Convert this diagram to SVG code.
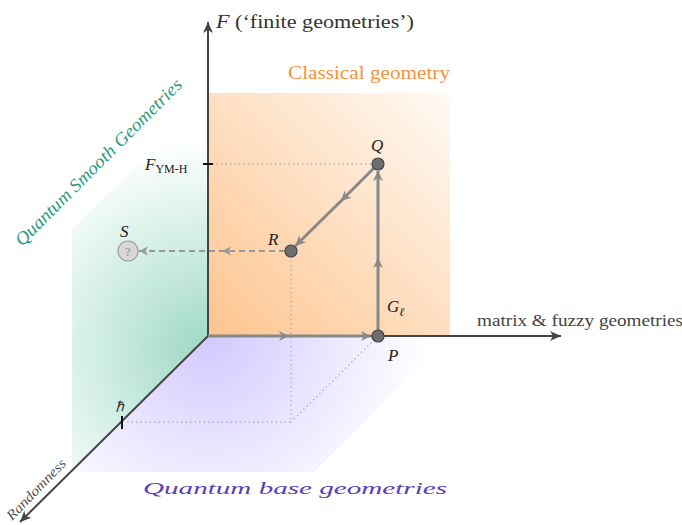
<svg xmlns="http://www.w3.org/2000/svg" width="682" height="525" viewBox="0 0 682 525">
<style>
.axis{stroke:#444;stroke-width:2;fill:none}
.conn{stroke:#888;stroke-width:3;fill:none}
.dash{stroke:#999;stroke-width:2;fill:none;stroke-dasharray:6 4}
.dot{stroke:#aaa;stroke-width:1.3;fill:none;stroke-dasharray:1.3 3.2}
.pt{fill:#6e6e6e;stroke:#444;stroke-width:1.2}
.lbl{font-family:"Liberation Serif",serif;fill:#222}
.it{font-style:italic}
</style>
<defs>
<linearGradient id="gOr" gradientUnits="userSpaceOnUse" x1="208" y1="336" x2="450" y2="93">
<stop offset="0" stop-color="#fdc48e"/><stop offset="1" stop-color="#fffaf5"/>
</linearGradient>
<radialGradient id="gGr" gradientUnits="userSpaceOnUse" cx="205" cy="350" r="210">
<stop offset="0" stop-color="#9fd8c5"/><stop offset="0.55" stop-color="#d4efe6"/><stop offset="1" stop-color="#ffffff"/>
</radialGradient>
<radialGradient id="gPu" gradientUnits="userSpaceOnUse" cx="208" cy="336" r="220">
<stop offset="0" stop-color="#d2c8ff"/><stop offset="0.55" stop-color="#ebe7ff"/><stop offset="1" stop-color="#ffffff"/>
</radialGradient>
<marker id="ax" markerUnits="userSpaceOnUse" markerWidth="16" markerHeight="12" viewBox="-12 -6 14 12" refX="0" refY="0" orient="auto">
<path d="M-11,-5 L0,0 L-11,5 L-8,0 Z" fill="#444"/>
</marker>
<marker id="ar" markerUnits="userSpaceOnUse" markerWidth="16" markerHeight="12" viewBox="-12 -6 14 12" refX="0" refY="0" orient="auto">
<path d="M-10,-5 L0,0 L-10,5 L-7,0 Z" fill="#888"/>
</marker>
<marker id="ard" markerUnits="userSpaceOnUse" markerWidth="16" markerHeight="12" viewBox="-12 -6 14 12" refX="0" refY="0" orient="auto">
<path d="M-9,-4.5 L0,0 L-9,4.5 L-6.5,0 Z" fill="#999"/>
</marker>
</defs>

<g id="planes">
<polygon id="plane-purple" points="208,336 450,336 314,472 72,472" fill="url(#gPu)"/>
<polygon id="plane-green" points="208,93 208,336 72,472 72,229" fill="url(#gGr)"/>
<rect id="plane-orange" x="208" y="93" width="242" height="243" fill="url(#gOr)"/>
</g>

<g id="guides">
<path class="dot" d="M212,164 H372"/>
<path class="dot" d="M291,256 V422 H124"/>
<path class="dot" d="M378,336 L291,422"/>
</g>

<g id="axes">
<path class="axis" d="M208,336 V22" marker-end="url(#ax)"/>
<path class="axis" d="M208,336 H561" marker-end="url(#ax)"/>
<path class="axis" d="M208,336 L20,522" marker-end="url(#ax)"/>
<path d="M203,164 H213" stroke="#111" stroke-width="2"/>
<path d="M122,416 V429" stroke="#111" stroke-width="2"/>
</g>

<g id="connectors">
<path class="conn" d="M208,336 L289,336 L371,336" marker-mid="url(#ar)" marker-end="url(#ar)"/>
<path class="conn" d="M378,330 L378,258 L378,171" marker-mid="url(#ar)" marker-end="url(#ar)"/>
<path class="conn" d="M373.7,168.3 L341,201 L295.5,245.7" marker-mid="url(#ar)" marker-end="url(#ar)"/>
<path class="dash" d="M285,251 L222,251 L139,251" marker-mid="url(#ard)" marker-end="url(#ard)"/>
</g>

<g id="node-P"><circle class="pt" cx="378" cy="336" r="6"/>
<text class="lbl it" x="388" y="361" font-size="17">P</text></g>
<g id="node-Q"><circle class="pt" cx="378" cy="164" r="6"/>
<text class="lbl it" x="371" y="151" font-size="17">Q</text></g>
<g id="node-R"><circle class="pt" cx="291" cy="251" r="6"/>
<text class="lbl it" x="268" y="245" font-size="17">R</text></g>
<g id="node-S"><circle cx="128" cy="251" r="10" fill="#d8d8d8" stroke="#999" stroke-width="1.2"/>
<text class="lbl" x="128" y="255.5" font-size="12" text-anchor="middle" style="fill:#888">?</text>
<text class="lbl it" x="120" y="237" font-size="17">S</text></g>

<g id="labels">
<text class="lbl" x="216" y="28" font-size="19" style="fill:#333" textLength="198" lengthAdjust="spacingAndGlyphs"><tspan class="it">F</tspan> (‘finite geometries’)</text>
<text x="288" y="79" font-family="Liberation Serif,serif" font-size="18.5" fill="#f7923a" textLength="162" lengthAdjust="spacingAndGlyphs">Classical geometry</text>
<text class="lbl" x="477" y="326" font-size="17" style="fill:#444" textLength="206" lengthAdjust="spacingAndGlyphs">matrix &amp; fuzzy geometries</text>
<text class="lbl" x="145" y="170" font-size="17"><tspan class="it">F</tspan><tspan font-size="12" dy="3">YM-H</tspan></text>
<text class="lbl" x="387" y="312" font-size="17"><tspan class="it">G</tspan><tspan class="it" font-size="12" dy="4">ℓ</tspan></text>
<text class="lbl it" x="0" y="0" font-size="14" transform="translate(116,412) rotate(-8)">ℏ</text>
<text x="0" y="0" font-family="Liberation Serif,serif" font-style="italic" font-size="18" fill="#2a9a7c" transform="translate(22,247) rotate(-45)" textLength="228" lengthAdjust="spacingAndGlyphs">Quantum Smooth Geometries</text>
<text x="0" y="0" font-family="Liberation Serif,serif" font-style="italic" font-size="14" fill="#555" transform="translate(12,521) rotate(-46)" textLength="79" lengthAdjust="spacingAndGlyphs">Randomness</text>
<text x="143" y="494" font-family="Liberation Serif,serif" font-style="italic" font-size="17" fill="#5a3db8" textLength="304" lengthAdjust="spacingAndGlyphs">Quantum  base  geometries</text>
</g>
</svg>
